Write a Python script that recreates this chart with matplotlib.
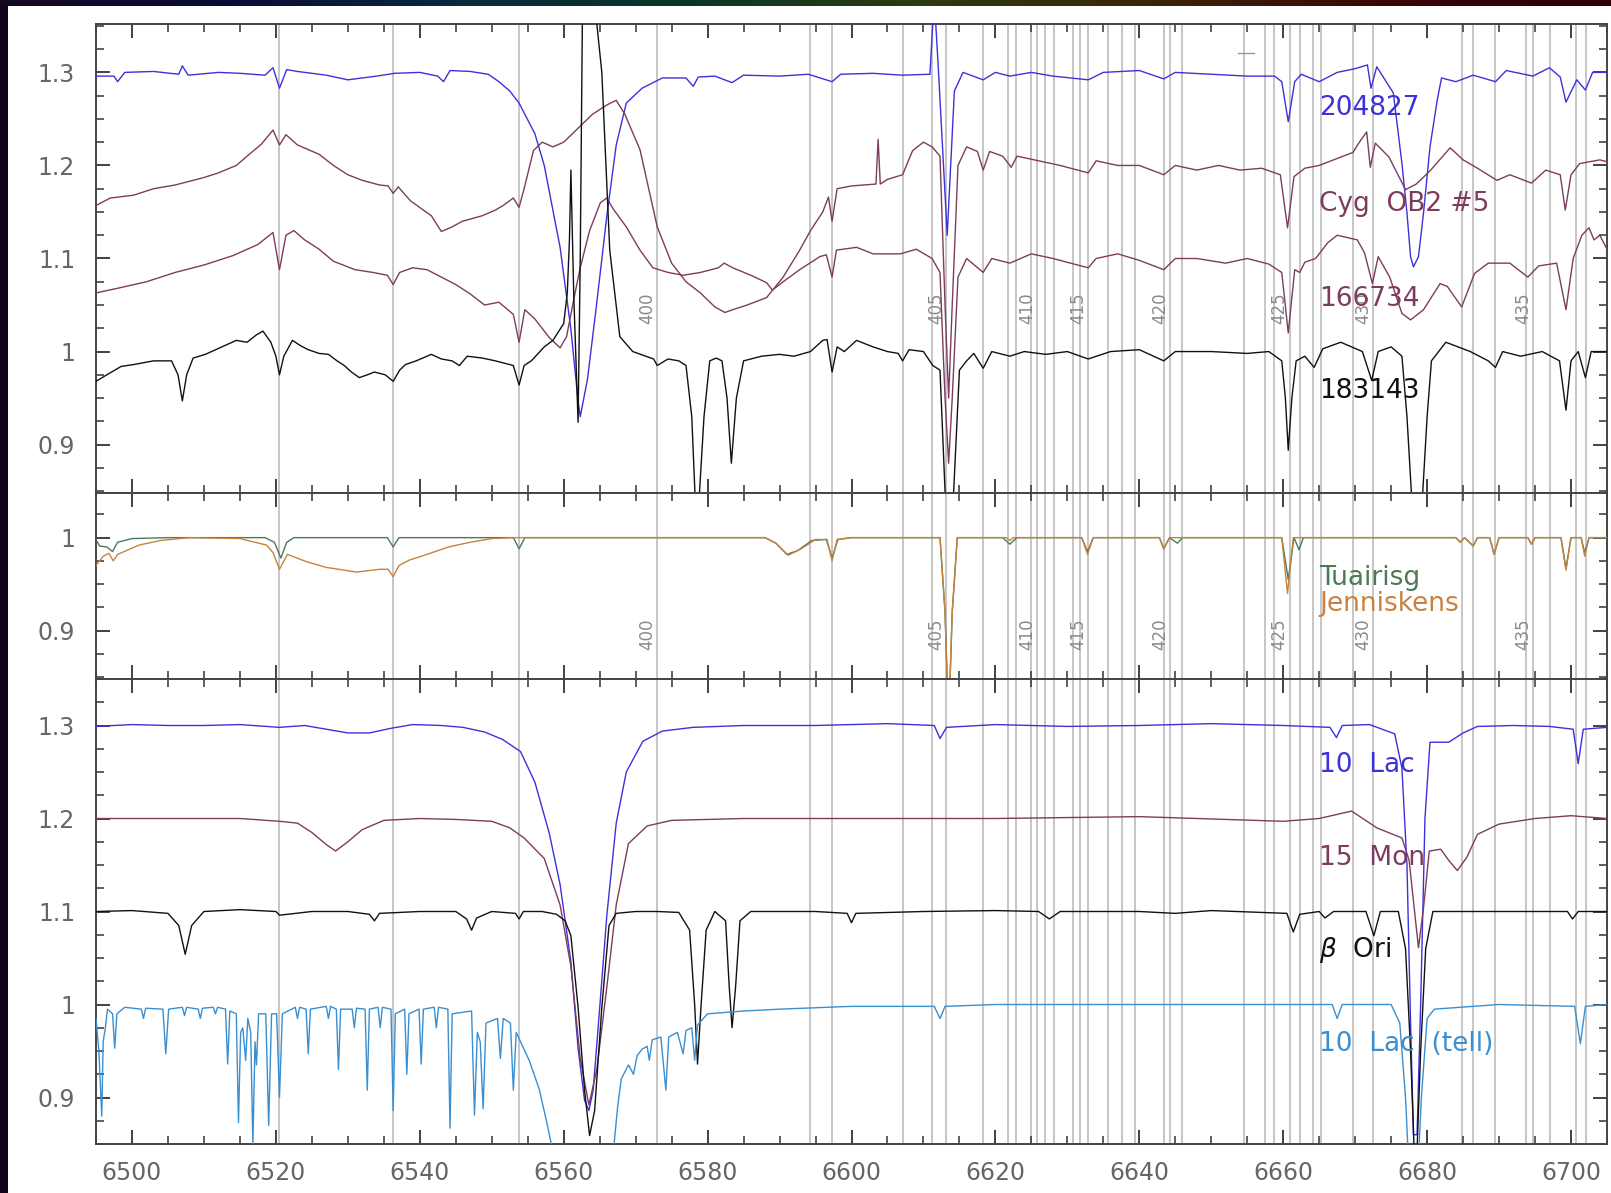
import numpy as np
import matplotlib.pyplot as plt
from matplotlib.ticker import MultipleLocator, FormatStrFormatter
from matplotlib.colors import LinearSegmentedColormap
from matplotlib.patches import Rectangle

# ---------------- data (wavelength [A], normalised flux) ----------------
# top panel
s204827 = np.array([
    (6495.0, 1.296), (6497.5, 1.296), (6498.0, 1.290), (6499.0, 1.300), (6503.0, 1.301),
    (6506.5, 1.298), (6507.0, 1.307), (6507.8, 1.297), (6512.0, 1.300), (6515.0, 1.299),
    (6518.5, 1.297), (6519.6, 1.305), (6520.5, 1.283), (6521.5, 1.303), (6523.0, 1.301),
    (6527.0, 1.297), (6530.0, 1.292), (6534.0, 1.296), (6536.5, 1.299), (6540.0, 1.300),
    (6542.5, 1.296), (6543.3, 1.290), (6544.2, 1.302), (6547.0, 1.301), (6549.5, 1.298),
    (6551.0, 1.290), (6552.5, 1.280), (6553.8, 1.267), (6556.0, 1.234), (6557.3, 1.200),
    (6559.5, 1.112), (6561.0, 1.024), (6562.0, 0.947), (6562.3, 0.930), (6563.3, 0.970),
    (6564.5, 1.046), (6566.0, 1.146), (6567.3, 1.222), (6568.7, 1.267), (6570.9, 1.283),
    (6573.7, 1.294), (6577.0, 1.294), (6578.0, 1.285), (6578.7, 1.295), (6581.0, 1.296),
    (6583.4, 1.289), (6585.0, 1.297), (6590.0, 1.296), (6594.0, 1.298), (6597.3, 1.290),
    (6598.5, 1.298), (6603.0, 1.299), (6607.0, 1.297), (6610.9, 1.298), (6611.5, 1.380),
    (6612.1, 1.300), (6613.3, 1.125), (6614.3, 1.280), (6615.5, 1.300), (6618.3, 1.292),
    (6620.0, 1.300), (6622.0, 1.296), (6625.0, 1.300), (6628.0, 1.296), (6632.9, 1.292),
    (6635.0, 1.300), (6640.0, 1.302), (6643.4, 1.293), (6645.0, 1.300), (6650.0, 1.298),
    (6655.0, 1.296), (6658.8, 1.296), (6659.8, 1.290), (6660.7, 1.247), (6661.6, 1.290),
    (6662.5, 1.298), (6665.0, 1.290), (6667.5, 1.300), (6670.0, 1.304), (6671.7, 1.308),
    (6672.2, 1.283), (6673.0, 1.306), (6675.3, 1.278), (6676.5, 1.202), (6677.2, 1.149),
    (6677.7, 1.102), (6678.1, 1.091), (6678.8, 1.102), (6679.5, 1.149), (6680.4, 1.220),
    (6681.4, 1.270), (6682.0, 1.294), (6684.0, 1.290), (6686.4, 1.297), (6689.5, 1.290),
    (6691.0, 1.302), (6694.7, 1.296), (6697.0, 1.305), (6698.5, 1.295), (6699.3, 1.268),
    (6700.8, 1.292), (6702.0, 1.281), (6703.0, 1.300), (6705.0, 1.300)])

s_cyg = np.array([
    (6495.0, 1.157), (6497.0, 1.165), (6500.2, 1.168), (6503.0, 1.175), (6506.0, 1.179),
    (6508.0, 1.183), (6510.0, 1.187), (6512.0, 1.192), (6514.5, 1.200), (6516.0, 1.210),
    (6518.0, 1.223), (6519.6, 1.238), (6520.5, 1.222), (6521.4, 1.233), (6523.0, 1.222),
    (6526.0, 1.212), (6528.0, 1.200), (6530.0, 1.190), (6532.0, 1.184), (6534.4, 1.179),
    (6535.6, 1.178), (6536.3, 1.170), (6537.0, 1.177), (6538.7, 1.162), (6540.5, 1.152),
    (6541.6, 1.146), (6543.0, 1.129), (6544.5, 1.134), (6545.9, 1.140), (6548.7, 1.146),
    (6550.5, 1.152), (6551.6, 1.157), (6553.0, 1.165), (6553.8, 1.155), (6554.5, 1.175),
    (6555.8, 1.216), (6557.0, 1.225), (6558.5, 1.220), (6560.0, 1.225), (6562.0, 1.240),
    (6564.0, 1.255), (6566.0, 1.265), (6567.3, 1.270), (6568.5, 1.255), (6570.6, 1.217),
    (6573.0, 1.134), (6575.0, 1.095), (6577.0, 1.075), (6579.0, 1.063), (6581.0, 1.048),
    (6582.4, 1.042), (6583.5, 1.045), (6585.5, 1.050), (6588.2, 1.058), (6590.5, 1.080),
    (6592.8, 1.109), (6594.3, 1.130), (6596.0, 1.150), (6596.8, 1.166), (6597.3, 1.140),
    (6598.0, 1.175), (6600.0, 1.178), (6603.4, 1.180), (6603.7, 1.228), (6604.0, 1.180),
    (6605.0, 1.185), (6607.1, 1.190), (6608.5, 1.216), (6610.0, 1.225), (6611.2, 1.220),
    (6612.3, 1.210), (6613.0, 1.050), (6613.5, 0.950), (6614.0, 1.050), (6614.8, 1.200),
    (6616.0, 1.220), (6617.5, 1.215), (6618.3, 1.195), (6619.2, 1.215), (6621.0, 1.210),
    (6622.2, 1.198), (6623.0, 1.210), (6626.0, 1.205), (6629.0, 1.200), (6632.9, 1.192),
    (6634.0, 1.205), (6637.0, 1.200), (6640.0, 1.200), (6643.4, 1.190), (6645.0, 1.200),
    (6648.0, 1.195), (6651.0, 1.200), (6654.0, 1.195), (6657.0, 1.197), (6659.6, 1.190),
    (6660.6, 1.133), (6661.5, 1.188), (6663.0, 1.197), (6665.0, 1.200), (6667.0, 1.206),
    (6669.7, 1.214), (6670.5, 1.224), (6671.6, 1.236), (6672.1, 1.198), (6672.8, 1.224),
    (6674.7, 1.209), (6677.0, 1.174), (6678.5, 1.180), (6680.5, 1.195), (6683.2, 1.219),
    (6685.0, 1.206), (6687.0, 1.197), (6689.7, 1.184), (6691.5, 1.190), (6694.5, 1.181),
    (6696.5, 1.195), (6698.5, 1.190), (6699.2, 1.152), (6700.0, 1.190), (6701.2, 1.202),
    (6704.0, 1.206), (6705.0, 1.204)])

s166734 = np.array([
    (6495.0, 1.063), (6498.0, 1.068), (6502.0, 1.075), (6506.0, 1.085), (6510.0, 1.093),
    (6514.0, 1.103), (6517.5, 1.115), (6519.6, 1.128), (6520.5, 1.088), (6521.4, 1.125),
    (6522.5, 1.130), (6524.0, 1.120), (6526.0, 1.110), (6528.0, 1.097), (6531.0, 1.088),
    (6533.5, 1.085), (6535.5, 1.082), (6536.3, 1.072), (6537.2, 1.085), (6539.0, 1.090),
    (6541.0, 1.088), (6543.0, 1.080), (6545.0, 1.072), (6547.0, 1.062), (6549.0, 1.050),
    (6551.0, 1.053), (6553.0, 1.040), (6553.8, 1.010), (6554.6, 1.045), (6556.0, 1.035),
    (6558.0, 1.015), (6559.5, 1.004), (6560.4, 1.016), (6561.5, 1.060), (6562.3, 1.090),
    (6563.6, 1.130), (6565.1, 1.160), (6566.0, 1.165), (6566.9, 1.153), (6568.7, 1.134),
    (6570.6, 1.109), (6572.4, 1.090), (6574.5, 1.085), (6576.6, 1.082), (6579.0, 1.085),
    (6581.5, 1.090), (6582.3, 1.095), (6583.5, 1.090), (6586.0, 1.082), (6588.2, 1.074),
    (6589.0, 1.066), (6590.5, 1.075), (6592.8, 1.088), (6595.6, 1.102), (6596.5, 1.104),
    (6597.3, 1.080), (6597.9, 1.109), (6600.7, 1.112), (6603.0, 1.105), (6606.8, 1.105),
    (6609.0, 1.110), (6611.2, 1.100), (6612.3, 1.085), (6613.0, 0.950), (6613.5, 0.880),
    (6614.0, 0.950), (6614.8, 1.080), (6616.0, 1.100), (6618.3, 1.085), (6619.5, 1.100),
    (6622.0, 1.095), (6625.0, 1.105), (6628.0, 1.100), (6632.9, 1.090), (6634.0, 1.100),
    (6637.0, 1.105), (6640.0, 1.098), (6643.4, 1.088), (6645.0, 1.100), (6648.0, 1.100),
    (6652.0, 1.095), (6655.0, 1.100), (6658.0, 1.094), (6659.8, 1.085), (6660.7, 1.020),
    (6661.6, 1.088), (6662.3, 1.085), (6663.0, 1.096), (6664.5, 1.100), (6666.2, 1.117),
    (6667.5, 1.125), (6670.3, 1.120), (6671.3, 1.106), (6672.4, 1.073), (6673.2, 1.102),
    (6674.8, 1.080), (6676.5, 1.041), (6677.7, 1.034), (6679.5, 1.045), (6681.8, 1.073),
    (6682.8, 1.070), (6684.8, 1.048), (6686.6, 1.084), (6688.5, 1.095), (6691.5, 1.095),
    (6694.0, 1.080), (6695.5, 1.092), (6698.0, 1.095), (6699.3, 1.045), (6700.3, 1.100),
    (6701.5, 1.125), (6702.5, 1.133), (6703.2, 1.120), (6704.0, 1.125), (6705.0, 1.110)])

s183143 = np.array([
    (6495.0, 0.968), (6496.5, 0.975), (6498.5, 0.984), (6500.2, 0.986), (6503.0, 0.990),
    (6505.5, 0.990), (6506.4, 0.975), (6507.0, 0.947), (6507.6, 0.975), (6508.5, 0.993),
    (6510.2, 0.997), (6512.5, 1.005), (6514.5, 1.012), (6516.0, 1.010), (6517.3, 1.018),
    (6518.2, 1.022), (6519.3, 1.010), (6520.0, 0.995), (6520.5, 0.975), (6521.1, 0.995),
    (6522.3, 1.012), (6523.5, 1.006), (6524.5, 1.002), (6526.0, 0.998), (6527.3, 0.997),
    (6528.5, 0.990), (6529.5, 0.985), (6530.5, 0.978), (6531.6, 0.972), (6532.7, 0.975),
    (6533.7, 0.978), (6535.2, 0.975), (6536.3, 0.968), (6537.2, 0.980), (6538.0, 0.986),
    (6539.5, 0.990), (6541.6, 0.997), (6543.0, 0.992), (6544.5, 0.990), (6545.5, 0.985),
    (6546.6, 0.995), (6548.7, 0.993), (6550.5, 0.990), (6553.0, 0.985), (6553.8, 0.964),
    (6554.5, 0.985), (6555.5, 0.990), (6557.3, 1.005), (6558.5, 1.012), (6560.0, 1.030),
    (6560.5, 1.063), (6560.8, 1.120), (6561.0, 1.195), (6561.4, 1.060), (6562.0, 0.924),
    (6562.3, 1.100), (6562.6, 1.360), (6563.5, 1.450), (6564.5, 1.360), (6565.3, 1.300),
    (6566.4, 1.109), (6567.8, 1.016), (6569.6, 1.000), (6572.5, 0.992), (6573.0, 0.985),
    (6574.5, 0.992), (6576.0, 0.990), (6577.0, 0.985), (6577.8, 0.930), (6578.5, 0.800),
    (6579.5, 0.930), (6580.3, 0.990), (6581.2, 0.993), (6582.0, 0.990), (6582.7, 0.950),
    (6583.3, 0.880), (6584.0, 0.950), (6585.0, 0.990), (6587.5, 0.995), (6590.0, 0.997),
    (6592.0, 0.995), (6594.3, 1.000), (6596.0, 1.012), (6596.6, 1.013), (6597.3, 0.978),
    (6598.0, 1.005), (6599.0, 1.000), (6600.7, 1.012), (6603.0, 1.005), (6605.0, 1.000),
    (6606.5, 0.998), (6607.1, 0.990), (6608.0, 1.002), (6610.0, 1.000), (6611.3, 0.985),
    (6612.3, 0.980), (6613.0, 0.850), (6613.5, 0.800), (6614.2, 0.850), (6615.0, 0.980),
    (6616.0, 0.990), (6617.0, 0.998), (6618.3, 0.982), (6619.5, 1.000), (6622.0, 0.995),
    (6624.0, 1.000), (6627.0, 0.997), (6630.0, 1.000), (6632.9, 0.992), (6636.0, 1.000),
    (6640.0, 1.002), (6643.4, 0.990), (6645.0, 1.000), (6650.0, 1.000), (6655.0, 0.998),
    (6658.0, 1.000), (6659.8, 0.990), (6660.3, 0.950), (6660.7, 0.894), (6661.2, 0.950),
    (6661.8, 0.990), (6663.0, 0.995), (6664.3, 0.983), (6665.5, 1.003), (6668.0, 1.010),
    (6671.0, 1.000), (6672.3, 0.969), (6673.2, 1.000), (6675.0, 1.005), (6676.5, 0.995),
    (6677.2, 0.930), (6677.8, 0.850), (6678.6, 0.800), (6679.4, 0.850), (6680.0, 0.930),
    (6680.6, 0.990), (6682.6, 1.010), (6686.0, 1.000), (6688.5, 0.990), (6689.5, 0.983),
    (6690.5, 1.000), (6693.0, 0.995), (6696.0, 1.000), (6698.4, 0.990), (6699.3, 0.937),
    (6700.0, 0.990), (6701.0, 1.000), (6702.0, 0.972), (6702.8, 1.000), (6705.0, 1.000)])

# middle panel (DIB templates)
s_tuairisg = np.array([
    (6495.0, 0.998), (6495.5, 0.991), (6496.5, 0.990), (6497.3, 0.985), (6498.0, 0.995),
    (6500.0, 0.999), (6505.0, 1.000), (6518.5, 1.000), (6519.8, 0.995), (6520.7, 0.978),
    (6521.5, 0.995), (6522.5, 1.000), (6535.5, 1.000), (6536.3, 0.990), (6537.1, 1.000),
    (6553.0, 1.000), (6553.8, 0.988), (6554.6, 1.000), (6588.0, 1.000), (6589.5, 0.994),
    (6591.0, 0.982), (6592.5, 0.986), (6594.5, 0.997), (6596.5, 0.998), (6597.3, 0.978),
    (6598.1, 0.998), (6600.0, 1.000), (6612.3, 1.000), (6613.0, 0.920), (6613.5, 0.800),
    (6614.0, 0.920), (6614.7, 1.000), (6621.0, 1.000), (6622.0, 0.993), (6623.0, 1.000),
    (6632.0, 1.000), (6632.8, 0.985), (6633.6, 1.000), (6642.8, 1.000), (6643.4, 0.988),
    (6644.2, 1.000), (6645.3, 0.994), (6646.0, 1.000), (6659.8, 1.000), (6660.7, 0.955),
    (6661.5, 1.000), (6662.2, 0.987), (6662.8, 1.000), (6684.0, 1.000), (6684.6, 0.995),
    (6685.2, 1.000), (6686.4, 0.991), (6687.0, 1.000), (6688.7, 1.000), (6689.3, 0.982),
    (6690.0, 1.000), (6694.0, 1.000), (6694.5, 0.993), (6695.0, 1.000), (6698.6, 1.000),
    (6699.3, 0.967), (6700.0, 1.000), (6701.4, 1.000), (6701.9, 0.984), (6702.5, 1.000),
    (6705.0, 1.000)])

s_jenniskens = np.array([
    (6495.0, 0.970), (6496.0, 0.980), (6496.8, 0.983), (6497.4, 0.975), (6498.0, 0.982),
    (6499.5, 0.987), (6501.0, 0.992), (6504.0, 0.997), (6508.0, 1.000), (6515.0, 0.999),
    (6518.7, 0.992), (6519.6, 0.984), (6520.5, 0.966), (6521.6, 0.982), (6524.3, 0.974),
    (6527.0, 0.968), (6531.2, 0.963), (6534.5, 0.966), (6535.6, 0.966), (6536.3, 0.958),
    (6537.1, 0.970), (6538.6, 0.976), (6541.0, 0.982), (6544.0, 0.990), (6547.0, 0.995),
    (6550.0, 0.999), (6553.0, 1.000), (6588.0, 1.000), (6589.5, 0.994), (6591.2, 0.981),
    (6593.0, 0.988), (6595.0, 0.998), (6596.6, 0.998), (6597.3, 0.975), (6598.0, 0.998),
    (6600.0, 1.000), (6612.3, 1.000), (6613.0, 0.920), (6613.5, 0.800), (6614.0, 0.920),
    (6614.7, 1.000), (6621.5, 1.000), (6622.0, 0.997), (6622.5, 1.000), (6632.0, 1.000),
    (6632.8, 0.982), (6633.6, 1.000), (6642.8, 1.000), (6643.4, 0.988), (6644.2, 1.000),
    (6659.8, 1.000), (6660.6, 0.940), (6661.4, 1.000), (6684.0, 1.000), (6684.6, 0.995),
    (6685.2, 1.000), (6686.4, 0.991), (6687.0, 1.000), (6688.7, 1.000), (6689.3, 0.982),
    (6690.0, 1.000), (6694.0, 1.000), (6694.5, 0.993), (6695.0, 1.000), (6698.6, 1.000),
    (6699.3, 0.965), (6700.0, 1.000), (6701.4, 1.000), (6701.9, 0.980), (6702.5, 1.000),
    (6705.0, 1.000)])

# bottom panel (comparison stars)
s10lac = np.array([
    (6495.0, 1.299), (6500.0, 1.301), (6505.0, 1.300), (6510.0, 1.300), (6515.0, 1.301),
    (6520.5, 1.298), (6524.0, 1.300), (6527.0, 1.296), (6530.0, 1.292), (6533.0, 1.292),
    (6536.0, 1.297), (6539.0, 1.301), (6543.0, 1.300), (6546.0, 1.298), (6549.0, 1.293),
    (6551.5, 1.285), (6554.0, 1.272), (6556.0, 1.239), (6558.0, 1.184), (6559.5, 1.129),
    (6561.0, 1.046), (6562.0, 0.953), (6562.9, 0.897), (6563.5, 0.886), (6564.1, 0.908),
    (6564.9, 0.986), (6566.0, 1.096), (6567.3, 1.195), (6568.7, 1.250), (6571.0, 1.283),
    (6573.7, 1.294), (6578.0, 1.298), (6585.0, 1.300), (6595.0, 1.300), (6605.0, 1.302),
    (6611.5, 1.300), (6612.3, 1.286), (6613.2, 1.298), (6620.0, 1.301), (6630.0, 1.299),
    (6640.0, 1.300), (6650.0, 1.302), (6660.0, 1.300), (6666.5, 1.298), (6667.4, 1.287),
    (6668.2, 1.300), (6672.0, 1.301), (6675.5, 1.291), (6676.5, 1.254), (6677.2, 1.150),
    (6677.7, 0.980), (6678.1, 0.860), (6678.6, 0.860), (6679.1, 1.000), (6679.7, 1.200),
    (6680.4, 1.282), (6683.0, 1.282), (6685.0, 1.292), (6687.0, 1.299), (6692.0, 1.300),
    (6697.0, 1.299), (6700.3, 1.296), (6701.0, 1.259), (6701.7, 1.296), (6705.0, 1.298)])

s15mon = np.array([
    (6495.0, 1.200), (6505.0, 1.200), (6515.0, 1.200), (6520.5, 1.197), (6523.0, 1.195),
    (6525.0, 1.185), (6527.0, 1.172), (6528.3, 1.165), (6530.0, 1.175), (6532.0, 1.188),
    (6535.0, 1.198), (6540.0, 1.200), (6545.0, 1.199), (6550.0, 1.197), (6552.5, 1.190),
    (6554.5, 1.179), (6557.3, 1.157), (6559.5, 1.107), (6561.0, 1.041), (6562.3, 0.942),
    (6563.5, 0.892), (6564.6, 0.930), (6566.0, 1.019), (6567.3, 1.107), (6569.0, 1.173),
    (6571.6, 1.192), (6575.0, 1.198), (6585.0, 1.200), (6600.0, 1.200), (6620.0, 1.200),
    (6640.0, 1.202), (6660.0, 1.197), (6665.0, 1.200), (6669.5, 1.208), (6673.0, 1.190),
    (6676.5, 1.179), (6677.5, 1.155), (6678.2, 1.104), (6678.8, 1.061), (6679.5, 1.104),
    (6680.3, 1.165), (6681.9, 1.167), (6683.0, 1.155), (6684.2, 1.144), (6685.5, 1.158),
    (6687.0, 1.183), (6690.0, 1.194), (6695.0, 1.200), (6700.0, 1.203), (6705.0, 1.200)])

s_betaori = np.array([
    (6495.0, 1.100), (6500.0, 1.101), (6505.0, 1.098), (6506.5, 1.085), (6507.4, 1.054),
    (6508.3, 1.085), (6510.0, 1.100), (6515.0, 1.102), (6520.0, 1.100), (6520.5, 1.096),
    (6525.0, 1.100), (6530.0, 1.100), (6533.0, 1.097), (6533.7, 1.090), (6534.4, 1.098),
    (6540.0, 1.100), (6545.0, 1.100), (6546.5, 1.092), (6547.2, 1.080), (6547.9, 1.093),
    (6550.0, 1.100), (6553.3, 1.098), (6553.8, 1.092), (6554.4, 1.100), (6557.0, 1.100),
    (6559.0, 1.097), (6560.2, 1.090), (6561.0, 1.074), (6562.0, 0.997), (6562.9, 0.908),
    (6563.6, 0.859), (6564.3, 0.886), (6565.3, 0.997), (6566.3, 1.085), (6567.3, 1.098),
    (6570.0, 1.100), (6573.0, 1.100), (6576.0, 1.099), (6577.5, 1.080), (6578.2, 1.000),
    (6578.6, 0.936), (6579.1, 1.000), (6579.8, 1.080), (6581.0, 1.100), (6582.5, 1.090),
    (6583.0, 1.020), (6583.4, 0.975), (6583.9, 1.020), (6584.5, 1.090), (6586.0, 1.100),
    (6595.0, 1.100), (6599.4, 1.098), (6600.0, 1.088), (6600.6, 1.098), (6610.0, 1.100),
    (6620.0, 1.101), (6626.0, 1.100), (6627.5, 1.092), (6629.0, 1.100), (6640.0, 1.100),
    (6645.0, 1.098), (6650.0, 1.101), (6660.5, 1.098), (6661.4, 1.078), (6662.3, 1.097),
    (6665.0, 1.100), (6665.8, 1.093), (6667.0, 1.100), (6671.5, 1.100), (6672.6, 1.074),
    (6673.5, 1.100), (6676.0, 1.100), (6677.0, 1.060), (6677.7, 0.950), (6678.4, 0.800),
    (6679.1, 0.950), (6679.8, 1.060), (6680.8, 1.100), (6690.0, 1.100), (6699.5, 1.100),
    (6700.2, 1.092), (6701.0, 1.100), (6705.0, 1.100)])

s10lac_tell = np.array([
    (6495.0, 0.985), (6495.4, 0.950), (6495.8, 0.880), (6496.0, 0.960), (6496.3, 0.975),
    (6496.6, 0.995), (6497.3, 0.990), (6497.6, 0.953), (6497.9, 0.990), (6499.0, 0.997),
    (6501.3, 0.995), (6501.6, 0.985), (6501.9, 0.996), (6504.3, 0.995), (6504.7, 0.947),
    (6505.1, 0.995), (6507.0, 0.997), (6507.3, 0.988), (6507.6, 0.997), (6509.2, 0.995),
    (6509.5, 0.985), (6509.8, 0.996), (6511.3, 0.997), (6511.6, 0.990), (6511.9, 0.997),
    (6513.0, 0.995), (6513.3, 0.936), (6513.6, 0.993), (6514.5, 0.990), (6514.8, 0.873),
    (6515.1, 0.970), (6515.4, 0.975), (6515.8, 0.940), (6516.1, 0.985), (6516.5, 0.970),
    (6516.8, 0.850), (6517.1, 0.960), (6517.3, 0.935), (6517.6, 0.990), (6518.6, 0.990),
    (6519.0, 0.870), (6519.4, 0.990), (6520.1, 0.990), (6520.5, 0.900), (6520.9, 0.990),
    (6522.7, 0.997), (6523.0, 0.985), (6523.3, 0.997), (6524.2, 0.995), (6524.5, 0.947),
    (6524.8, 0.995), (6527.0, 0.998), (6527.3, 0.985), (6527.6, 0.998), (6528.4, 0.995),
    (6528.7, 0.930), (6529.0, 0.995), (6530.6, 0.995), (6530.9, 0.975), (6531.2, 0.996),
    (6532.4, 0.995), (6532.7, 0.908), (6533.0, 0.995), (6534.2, 0.997), (6534.5, 0.975),
    (6534.8, 0.997), (6536.0, 0.995), (6536.3, 0.886), (6536.6, 0.990), (6537.9, 0.995),
    (6538.2, 0.925), (6538.5, 0.990), (6539.9, 0.995), (6540.2, 0.936), (6540.5, 0.995),
    (6542.0, 0.997), (6542.3, 0.975), (6542.6, 0.997), (6543.9, 0.995), (6544.2, 0.867),
    (6544.5, 0.990), (6547.2, 0.993), (6547.6, 0.881), (6548.0, 0.970), (6548.4, 0.960),
    (6548.8, 0.888), (6549.2, 0.980), (6550.8, 0.985), (6551.2, 0.942), (6551.6, 0.985),
    (6552.6, 0.980), (6553.0, 0.908), (6553.4, 0.970), (6554.0, 0.960), (6555.2, 0.940),
    (6556.6, 0.909), (6557.6, 0.875), (6558.5, 0.842), (6560.0, 0.780), (6563.0, 0.750),
    (6566.0, 0.780), (6567.0, 0.850), (6567.5, 0.890), (6568.0, 0.920), (6569.0, 0.935),
    (6569.7, 0.925), (6570.2, 0.945), (6570.9, 0.952), (6571.6, 0.955), (6571.9, 0.940),
    (6572.3, 0.962), (6573.5, 0.965), (6574.2, 0.908), (6574.6, 0.965), (6575.8, 0.970),
    (6576.6, 0.947), (6577.0, 0.972), (6577.8, 0.975), (6578.2, 0.940), (6578.6, 0.978),
    (6580.0, 0.990), (6585.0, 0.993), (6590.0, 0.995), (6600.0, 0.998), (6611.5, 0.998),
    (6612.3, 0.985), (6613.0, 0.998), (6620.0, 1.000), (6640.0, 1.000), (6660.0, 1.000),
    (6666.8, 1.000), (6667.5, 0.985), (6668.2, 1.000), (6675.0, 1.000), (6676.2, 0.980),
    (6677.0, 0.900), (6677.6, 0.800), (6678.6, 0.800), (6679.2, 0.900), (6680.0, 0.985),
    (6681.0, 0.995), (6690.0, 1.000), (6700.5, 0.998), (6701.3, 0.958), (6702.0, 0.998),
    (6705.0, 1.000)])

# marked DIB positions (grey vertical lines)
dib_lines = [6520.5, 6536.3, 6553.8, 6573.0, 6594.3, 6597.3, 6607.1, 6611.2, 6613.2,
             6618.3, 6621.7, 6622.9, 6624.9, 6625.8, 6626.9, 6628.2, 6630.8, 6631.8,
             6632.9, 6635.6, 6637.6, 6639.4, 6643.5, 6644.3, 6645.9, 6654.6, 6657.4,
             6658.7, 6660.9, 6662.3, 6664.2, 6665.2, 6669.7, 6672.5, 6684.8, 6686.4,
             6689.4, 6693.7, 6694.7, 6697.1, 6700.7, 6702.1]
dib_ids = ['400', '405', '410', '415', '420', '425', '430', '435']
dib_id_wl = [6573.0, 6613.2, 6625.8, 6632.9, 6644.3, 6660.9, 6672.5, 6694.7]

top_names = ['204827', 'Cyg  OB2 #5', '166734', '183143']
top_label_y = [1.262, 1.159, 1.057, 0.958]
mid_names = ['Tuairisg', 'Jenniskens']
mid_label_y = [0.957, 0.929]
bot_names = ['10  Lac', '15  Mon', r'$\beta$  Ori', '10  Lac  (tell)']
bot_label_y = [1.258, 1.158, 1.059, 0.958]

# ---------------- style ----------------
c_blue = '#3b32d9'
c_maroon = '#7d3c5f'
c_black = '#111111'
c_green = '#4b7a57'
c_orange = '#c8823f'
c_tell = '#3a8fd0'
c_grid = '#bcbcbc'
c_txt = '#666666'

W, H = 1611, 1193
fig = plt.figure(figsize=(W / 100, H / 100), dpi=100)
fig.patch.set_facecolor('#12061c')

# dark frame with coloured strip on top, as in the slide
bg = fig.add_axes([0, 0, 1, 1])
strip_cols = ['#160824', '#0a0c36', '#082a3c', '#0a3626', '#2c3a12', '#3a240a', '#3c0606', '#2c0004']
strip = np.linspace(0, 1, 256).reshape(1, -1)
bg.imshow(strip, cmap=LinearSegmentedColormap.from_list('strip', strip_cols),
          extent=[0, W, 6, 0], aspect='auto')
bg.add_patch(Rectangle((8, 6), W - 8, H - 6, facecolor='white', edgecolor='none'))
bg.set_xlim(0, W)
bg.set_ylim(H, 0)
bg.axis('off')

left = 96 / W
width = (1607 - 96) / W


def panel(y_top, y_bot, ylim):
    ax = fig.add_axes([left, 1 - y_bot / H, width, (y_bot - y_top) / H])
    ax.set_xlim(6495, 6705)
    ax.set_ylim(*ylim)
    ax.xaxis.set_major_locator(MultipleLocator(20))
    ax.xaxis.set_minor_locator(MultipleLocator(5))
    ax.yaxis.set_major_locator(MultipleLocator(0.1))
    ax.yaxis.set_minor_locator(MultipleLocator(0.025))
    ax.yaxis.set_major_formatter(FormatStrFormatter('%g'))
    ax.tick_params(which='both', direction='in', top=True, right=True, colors='#333333',
                   labelcolor=c_txt, labelsize=17)
    ax.tick_params(which='major', length=10, width=1.3)
    ax.tick_params(which='minor', length=5.5, width=1.1)
    ax.tick_params(axis='y', pad=15)
    ax.tick_params(axis='x', pad=12)
    for sp in ax.spines.values():
        sp.set_color('#444444')
        sp.set_linewidth(1.4)
    for wl in dib_lines:
        ax.axvline(wl, color=c_grid, lw=1.2, zorder=1)
    ax.set_facecolor('white')
    return ax


ax1 = panel(24, 493, (0.848, 1.352))
ax2 = panel(493, 679, (0.848, 1.048))
ax3 = panel(679, 1144, (0.85, 1.35))
ax1.tick_params(labelbottom=False)
ax2.tick_params(labelbottom=False)
ax2.set_yticks([0.9, 1.0])

lw = 1.0
for s, c in [(s204827, c_blue), (s_cyg, c_maroon), (s166734, c_maroon), (s183143, c_black)]:
    ax1.plot(s[:, 0], s[:, 1], color=c, lw=lw, zorder=3)
for s, c in [(s_tuairisg, c_green), (s_jenniskens, c_orange)]:
    ax2.plot(s[:, 0], s[:, 1], color=c, lw=lw, zorder=3)
for s, c in [(s10lac, c_blue), (s15mon, c_maroon), (s_betaori, c_black), (s10lac_tell, c_tell)]:
    ax3.plot(s[:, 0], s[:, 1], color=c, lw=lw, zorder=3)

# star names
lab_x = 6665.0
for name, y, c in zip(top_names, top_label_y, [c_blue, c_maroon, c_maroon, c_black]):
    ax1.text(lab_x, y, name, color=c, fontsize=19, ha='left', va='center', zorder=4)
for name, y, c in zip(mid_names, mid_label_y, [c_green, c_orange]):
    ax2.text(lab_x, y, name, color=c, fontsize=19, ha='left', va='center', zorder=4)
for name, y, c in zip(bot_names, bot_label_y, [c_blue, c_maroon, c_black, c_tell]):
    ax3.text(lab_x, y, name, color=c, fontsize=19, ha='left', va='center', zorder=4)

# DIB identifiers, rotated, sitting against their lines
for lbl, wl in zip(dib_ids, dib_id_wl):
    for ax, y in [(ax1, 1.047), (ax2, 0.896)]:
        ax.text(wl - 0.15, y, lbl, rotation=90, color='#8a8a8a', fontsize=12,
                ha='right', va='center', zorder=2)

# small stray dash in the top panel
dash_wl = [6653.7, 6655.9]
dash_y = [1.321, 1.321]
ax1.plot(dash_wl, dash_y, color='#999999', lw=1.0)

fig.savefig('out.png', dpi=100, facecolor=fig.get_facecolor())
